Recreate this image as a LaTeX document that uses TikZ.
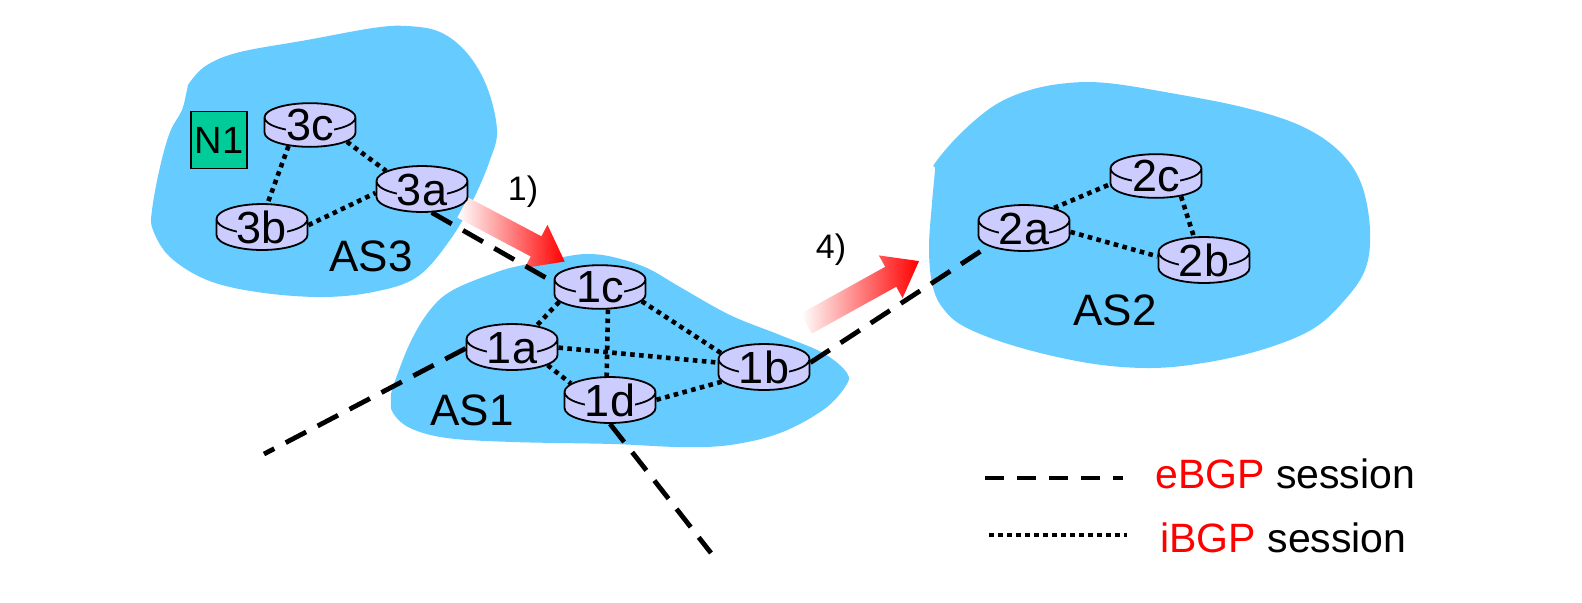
\documentclass[tikz,border=0pt]{standalone}
\usepackage{fontspec}
\setmainfont{Liberation Sans}
\usepackage{xcolor}
\usetikzlibrary{arrows.meta,positioning,shapes.geometric,shapes.arrows}
\definecolor{asbg}{HTML}{66CCFF}
\definecolor{rtbg}{HTML}{CCCCFF}
\definecolor{netbg}{HTML}{00CC99}
\newcommand{\rtxt}[1]{{\setlength{\fboxsep}{0pt}\smash{\raisebox{-0.18em}{\colorbox{rtbg}{#1}}}}}
\tikzset{
  asblob/.style = {fill=asbg, draw=none},
  router/.style = {cylinder, shape border rotate=90, aspect=0.6, draw=black, line width=0.9pt,
                   cylinder uses custom fill, cylinder body fill=rtbg, cylinder end fill=rtbg,
                   minimum width=45.5pt, minimum height=21.5pt, inner sep=0pt, anchor=shape center,
                   font=\fontsize{22.5}{24}\selectfont},
  net/.style    = {draw=black, line width=0.7pt, fill=netbg, minimum width=28pt, minimum height=28.5pt,
                   inner sep=0pt, font=\fontsize{19}{20}\selectfont},
  ebgp/.style   = {line width=2.4pt, dash pattern=on 11.5pt off 6.5pt},
  ibgp/.style   = {line width=2.3pt, dash pattern=on 2.3pt off 2.2pt},
  upd/.style    = {single arrow, left color=white, middle color=red!35, right color=red, draw=none,
                   inner xsep=0pt, inner ysep=5.5pt, minimum width=24pt,
                   single arrow head extend=6.5pt, single arrow tip angle=74},
  lbl/.style    = {font=\fontsize{22}{24}\selectfont, inner sep=0pt},
  stp/.style    = {font=\fontsize{17}{20}\selectfont, inner sep=0pt},
  leg/.style    = {font=\fontsize{20.5}{24}\selectfont, inner sep=0pt, anchor=base west},
}
\begin{document}
\begin{tikzpicture}[x=0.5pt,y=-0.5pt]
  \useasboundingbox (0,0) rectangle (1582,602);
  % the three ASes
  \fill[asblob] plot[smooth cycle, tension=0.6] coordinates {(190,82) (207,65) (240,52) (307,40) (373,28) (407,26) (440,32) (467,53) (487,87) (497,130) (490,160) (473,200) (450,240) (417,277) (373,292) (320,297) (257,292) (207,280) (170,257) (153,230) (152,210) (160,167) (170,132) (182,110) (187,90)};
  \fill[asblob] plot[smooth cycle, tension=0.6] coordinates {(393,387) (410,343) (430,310) (453,290) (497,272) (523,265) (563,257) (587,254) (613,257) (647,268) (680,287) (730,315) (780,335) (823,353) (847,373) (845,387) (823,410) (780,433) (730,445) (680,447) (613,444) (513,442) (447,438) (410,428) (393,413) (391,400)};
  \fill[asblob] plot[smooth cycle, tension=0.6] coordinates {(935,163) (961,133) (995,105) (1030,90) (1068,83) (1107,83) (1165,92) (1242,107) (1299,125) (1338,150) (1361,183) (1370,230) (1365,270) (1342,303) (1311,330) (1261,350) (1203,363) (1149,368) (1088,363) (1018,347) (965,327) (942,307) (932,283) (929,247) (932,203) (935,170)};

  % update arrows
  \node[upd, minimum height=57.7pt, rotate=-27.9] (upd1) at (507,231) {};
  \node[upd, minimum height=64.5pt, rotate=29] (upd4) at (856,296) {};
  \node[stp] (stp1) at (523,192) {1)};
  \node[stp] (stp4) at (831,250) {4)};

  % routers
  \node[router] (r3c) at (310,125) {\rtxt{3c}};
  \node[router] (r3a) at (422,189) {\rtxt{3a}};
  \node[router] (r3b) at (262,227) {\rtxt{3b}};
  \node[router] (r1c) at (600,287) {\rtxt{1c}};
  \node[router] (r1a) at (512,347) {\rtxt{1a}};
  \node[router] (r1d) at (610,400) {\rtxt{1d}};
  \node[router] (r1b) at (764,367) {\rtxt{1b}};
  \node[router] (r2c) at (1156,176) {\rtxt{2c}};
  \node[router] (r2a) at (1024,228) {\rtxt{2a}};
  \node[router] (r2b) at (1204,260) {\rtxt{2b}};
  \node[net] (n1) at (219,140) {N1};
  \node[lbl] (as3) at (371,256) {AS3};
  \node[lbl] (as1) at (472,410) {AS1};
  \node[lbl] (as2) at (1115,310) {AS2};

  \coordinate (end1a) at (264,454);
  \coordinate (end1d) at (711,553);
  \draw[ibgp] (r3c.212) -- (r3b.80); \draw[ibgp] (r3c.-14) -- (r3a.144); \draw[ibgp] (r3b.12) -- (r3a.175);
  \draw[ibgp] (r1c.190) -- (r1a.50); \draw[ibgp] (r1c.-62) -- (r1d.96); \draw[ibgp] (r1c.-9) -- (r1b.153);
  \draw[ibgp] (r1a.9) -- (r1b.165); \draw[ibgp] (r1a.-16) -- (r1d.148); \draw[ibgp] (r1d.10) -- (r1b.189);
  \draw[ibgp] (r2a.43) -- (r2c.181); \draw[ibgp] (r2a.5) -- (r2b.166); \draw[ibgp] (r2c.-27) -- (r2b.108);
  \draw[ebgp] (r3a.-58) -- (r1c.165);
  \draw[ebgp] (r1a.172) -- (end1a);
  \draw[ebgp] (r1d.south) -- (end1d);
  \draw[ebgp] (r1b.15) -- (r2a.196);

  % legend
  \coordinate (dashl) at (985,478); \coordinate (dashr) at (1123,478);
  \coordinate (dotl) at (989,535); \coordinate (dotr) at (1127,535);
  \draw[ebgp, dash pattern=on 9.5pt off 6.5pt] (dashl) -- (dashr);
  \draw[ibgp] (dotl) -- (dotr);
  \node[leg] (legeb) at (1155,488) {\textcolor{red}{eBGP} session};
  \node[leg] (legib) at (1160,552) {\textcolor{red}{iBGP} session};
\end{tikzpicture}
\end{document}
